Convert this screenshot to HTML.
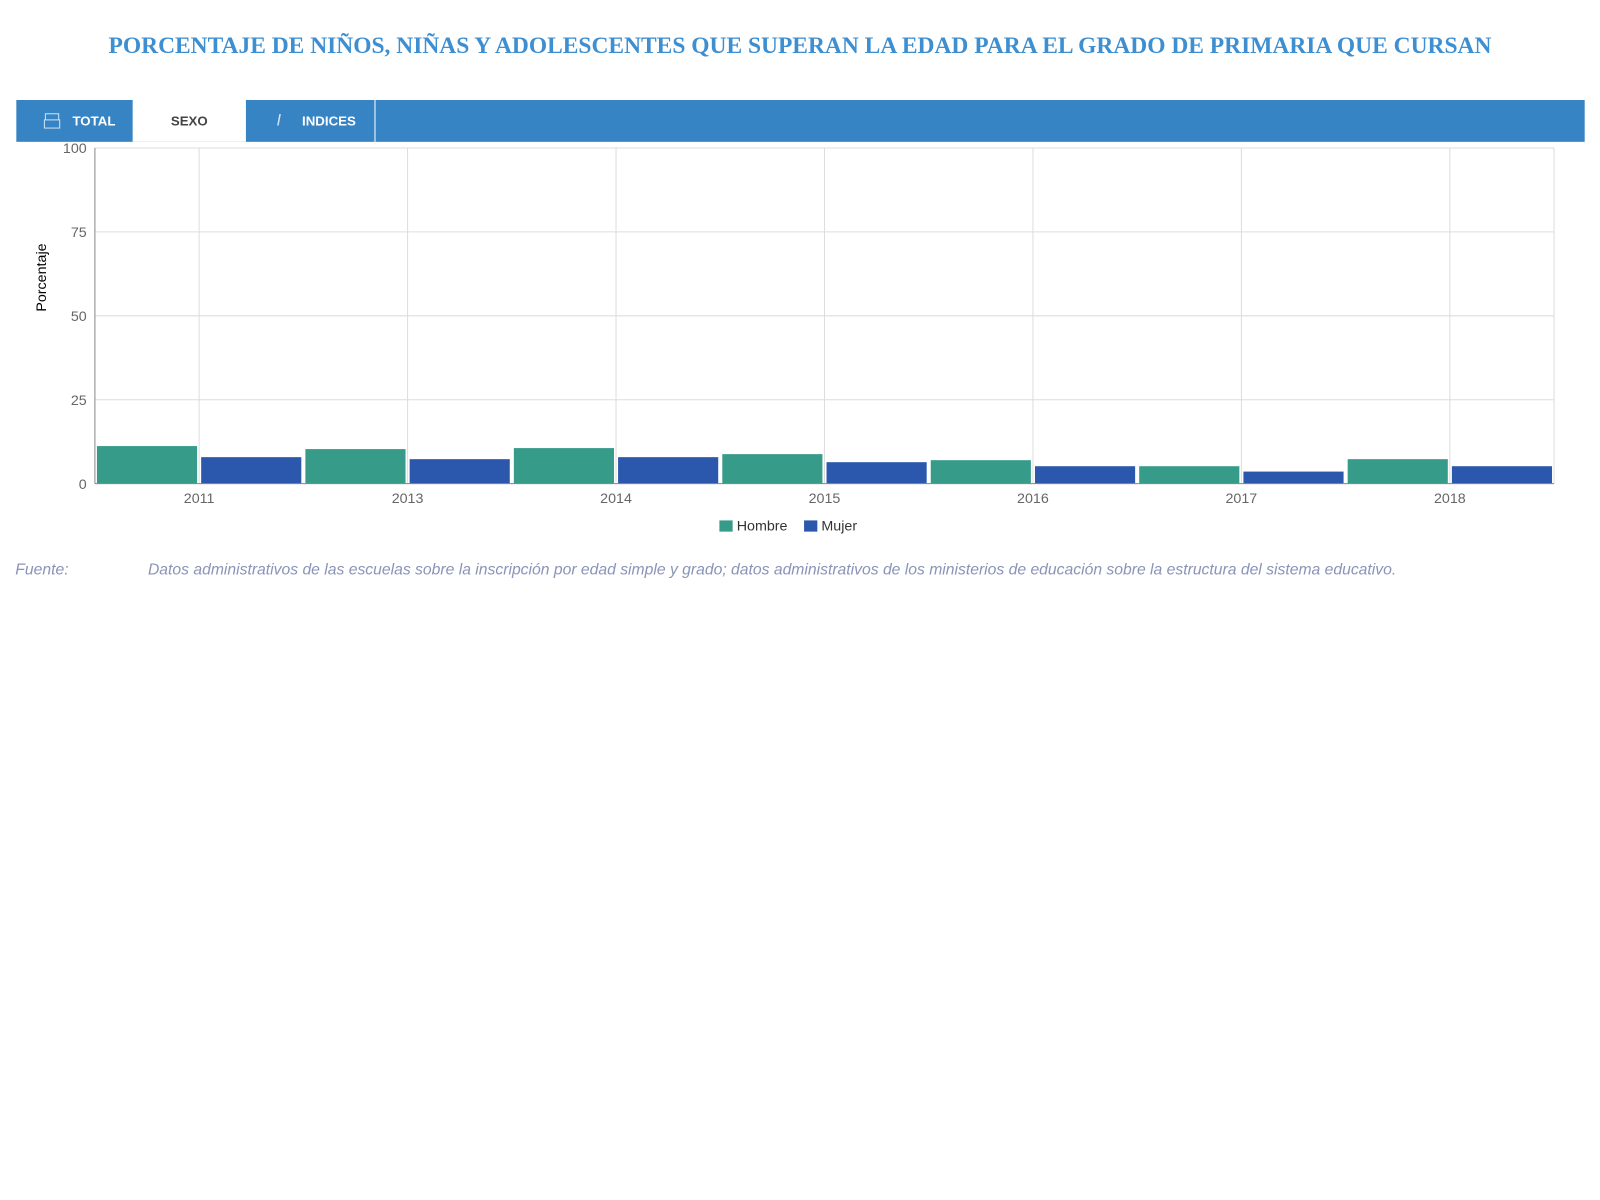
<!DOCTYPE html>
<html><head><meta charset="utf-8"><style>
body{margin:0;width:1600px;height:1200px;background:#fff;font-family:"Liberation Sans",sans-serif;position:relative;overflow:hidden}
#wrap{position:absolute;left:0;top:0;width:1568px;height:1176px;transform:scale(1.0204);transform-origin:0 0}
.title{position:absolute;top:32px;left:0;width:1568px;text-align:center;font-family:"Liberation Serif",serif;font-weight:bold;font-size:23px;color:#3d8fd1}
.bar{position:absolute;top:98px;left:16px;width:1537px;height:41px;background:#3784c4}
.tab{position:absolute;top:0;height:41px;line-height:41px;font-size:13px;font-weight:bold;color:#fff}
.src{position:absolute;top:550px;font-size:15.4px;font-style:italic;color:#8a93b8}
</style></head><body>
<div id="wrap">
<div class="title">PORCENTAJE DE NIÑOS, NIÑAS Y ADOLESCENTES QUE SUPERAN LA EDAD PARA EL GRADO DE PRIMARIA QUE CURSAN</div>
<div class="bar">
<div class="tab" style="left:0;width:114px"><span style="position:absolute;left:28px;top:13px;width:12px;height:5px;border:1px solid #cfe3f3;box-shadow:0 7px 0 -0px #3784c4,0 7px 0 1px #cfe3f3"></span><span style="position:absolute;left:55px">TOTAL</span></div>
<div class="tab" style="left:114px;width:111px;background:#fff;color:#444;text-align:center">SEXO</div>
<div class="tab" style="left:225px;width:126px"><span style="position:absolute;left:30px;font-style:italic;font-weight:normal;color:#cfe3f3;font-size:16px">I</span><span style="position:absolute;left:55px">INDICES</span></div>
<div style="position:absolute;left:351px;top:0;width:1px;height:41px;background:#fff"></div>
</div>
<svg id="chart" width="1568" height="540" style="position:absolute;left:0;top:0"></svg>
<div class="src" style="left:15px">Fuente:</div>
<div class="src" style="left:145px">Datos administrativos de las escuelas sobre la inscripción por edad simple y grado; datos administrativos de los ministerios de educación sobre la estructura del sistema educativo.</div>
</div>
<script>
const categories=["2011","2013","2014","2015","2016","2017","2018"];
const hombre=[11.2,10.3,10.6,8.8,7.0,5.2,7.3];
const mujer=[7.9,7.3,7.9,6.4,5.2,3.6,5.2];
const yTicks=[0,25,50,75,100];
const svg=document.getElementById('chart');const NS='http://www.w3.org/2000/svg';
const X0=93,X1=1523,Y0=474,Y1=145;
const bw=(X1-X0)/categories.length;
const y=v=>Y0-(v/100)*(Y0-Y1);
function mk(t,a,txt){const e=document.createElementNS(NS,t);for(const k in a)e.setAttribute(k,a[k]);if(txt!=null)e.textContent=txt;svg.appendChild(e);return e;}
yTicks.forEach(t=>{
 const g=mk('line',{x1:X0,x2:X1,y1:y(t),y2:y(t),stroke:'#ddd'});
 
 
 const l=mk('text',{x:X0-8,y:y(t)+5,'text-anchor':'end','font-size':14,fill:'#666'},t);
 
 
});
mk('line',{x1:X1,x2:X1,y1:Y1,y2:Y0,stroke:'#ddd'});
categories.forEach((c,i)=>{
 const cx=X0+bw*(i+0.5);
 const g=mk('line',{x1:cx,x2:cx,y1:Y1,y2:Y0,stroke:'#ddd'});
 
 
 const l=mk('text',{x:cx,y:Y0+19,'text-anchor':'middle','font-size':14,fill:'#666'},c);
 
 
 const h=mk('rect',{x:X0+bw*i+2,y:y(hombre[i]),width:bw/2-4,height:Y0-y(hombre[i]),fill:'#379b8a'});
 
 
 const m=mk('rect',{x:cx+2,y:y(mujer[i]),width:bw/2-4,height:Y0-y(mujer[i]),fill:'#2b58ad'});
 
 
});
mk('line',{x1:X0,x2:X0,y1:Y1,y2:Y0,stroke:'#888'});
mk('line',{x1:X0,x2:X1,y1:Y0,y2:Y0,stroke:'#888'});
const yt=mk('text',{x:45,y:272,'text-anchor':'middle','font-size':14,fill:'#000',transform:'rotate(-90 45 272)'},'Porcentaje');


const l1=mk('rect',{x:705,y:510,width:13,height:11,fill:'#379b8a'});


mk('text',{x:722,y:520,'font-size':14,fill:'#333'},'Hombre');
const l2=mk('rect',{x:788,y:510,width:13,height:11,fill:'#2b58ad'});


mk('text',{x:805,y:520,'font-size':14,fill:'#333'},'Mujer');
</script>
</body></html>
